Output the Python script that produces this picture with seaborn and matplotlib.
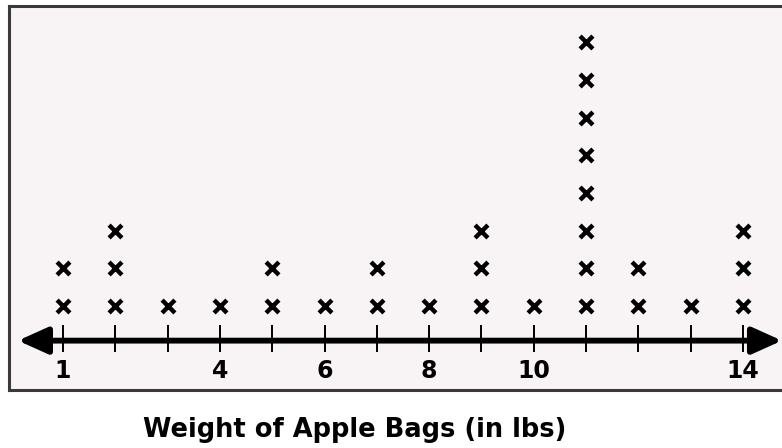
import pandas as pd
import matplotlib.pyplot as plt
import seaborn as sns

# Data
weights = [1, 2, 3, 4, 5, 6, 7, 8, 9, 10, 11, 12, 13, 14]
counts = [2, 3, 1, 1, 2, 1, 2, 1, 3, 1, 8, 2, 1, 3]
labelled_ticks = [1, 4, 6, 8, 10, 14]
xlabel = 'Weight of Apple Bags (in lbs)'

# One row per x mark, stacked upwards
rows = []
for w, c in zip(weights, counts):
    for k in range(1, c + 1):
        rows.append({'weight': w, 'level': k})
df = pd.DataFrame(rows)

sns.set_style('white')
plt.rcParams['font.family'] = ['DejaVu Sans']

fig = plt.figure(figsize=(7.82, 4.48), dpi=100)
ax = fig.add_axes([9 / 782, 58 / 448, 1 - 9 / 782, 384 / 448])
ax.set_facecolor('#f8f4f6')

sns.scatterplot(data=df, x='weight', y='level', marker='x', s=85,
                linewidth=3.2, color='black', ax=ax, legend=False)

ax.set_xlim(-0.032, 14.746)
ax.set_ylim(-1.23, 8.96)
ax.set_xticks([])
ax.set_yticks([])
ax.set_xlabel('')
ax.set_ylabel('')

for side in ['left', 'top', 'bottom']:
    ax.spines[side].set_color('#3a3a3a')
    ax.spines[side].set_linewidth(2.2)
ax.spines['right'].set_visible(False)

# number line with arrows at both ends
axis_y = 0.08
x_left = 1 - (63 - 18) / 52.3
x_right = 14 + (782 - 743) / 52.3
ax.annotate('', xy=(x_left, axis_y), xytext=(x_right, axis_y),
            arrowprops=dict(arrowstyle='<|-|>,head_length=1.0,head_width=0.45',
                            mutation_scale=18, lw=4.2, color='black',
                            shrinkA=0, shrinkB=0),
            annotation_clip=False)

# tick marks at every whole pound
ax.vlines(weights, -0.22, 0.49, color='black', linewidth=1.4)

for t in labelled_ticks:
    ax.text(t, -0.72, str(t), ha='center', va='center',
            fontsize=17, fontweight='bold', color='black')

fig.text(355 / 782, 1 - 430 / 448, xlabel, ha='center', va='center',
         fontsize=18.5, fontweight='bold', color='black')

fig.savefig('out.png', dpi=100, facecolor='white')
